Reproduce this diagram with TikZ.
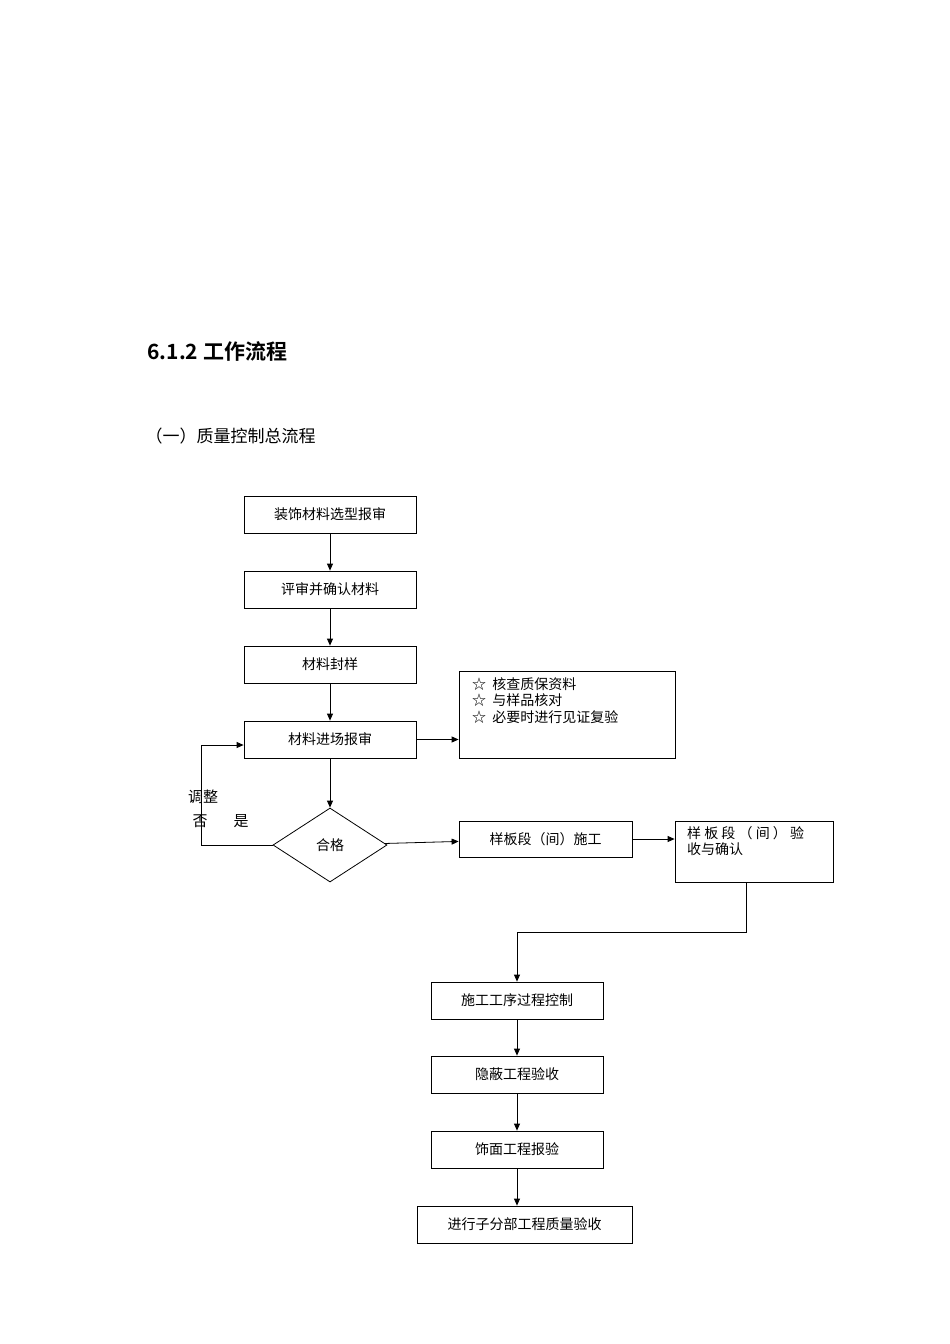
\documentclass[tikz,border=0pt]{standalone}
\usepackage{fontspec}
\setmainfont{Noto Sans CJK SC}
\newfontfamily\cjkb{Noto Sans CJK SC}[BoldFont={* Bold}]
\usetikzlibrary{shapes.geometric,arrows.meta}
\begin{document}
\begin{tikzpicture}[x=1pt,y=-1pt,
  bx/.style={draw,line width=0.8pt,font=\fontsize{14}{16}\selectfont},
  ar/.style={-{Triangle[length=7pt,width=6pt]},line width=0.8pt},
  ln/.style={line width=0.8pt},
  lb/.style={font=\fontsize{15}{17}\selectfont}]
\useasboundingbox (0,0) rectangle (950,1344);
\node[anchor=west,font=\cjkb\bfseries\fontsize{21}{24}\selectfont] (h1) at (144,351) {6.1.2 工作流程};
\node[anchor=west,font=\fontsize{17}{20}\selectfont] (h2) at (142,436) {（一）质量控制总流程};
\newcommand{\bbox}[6]{\node[bx,minimum width=#4-#2,minimum height=#5-#3,inner sep=0pt] (#1) at ({(#2+#4)/2},{(#3+#5)/2}) {#6};}
\bbox{a}{244}{496}{416}{533}{装饰材料选型报审}
\bbox{b}{244}{571}{416}{608}{评审并确认材料}
\bbox{c}{244}{646}{416}{683}{材料封样}
\bbox{d}{244}{721}{416}{758}{材料进场报审}
\node[draw,line width=0.8pt,minimum width=216,minimum height=87,inner sep=0pt] (r) at (567,714.5) {};
\node[anchor=north west,align=left,font=\fontsize{14}{16.5}\selectfont,inner sep=0pt] (rt) at (472,677) {☆\ \ 核查质保资料\\☆\ \ 与样品核对\\☆\ \ 必要时进行见证复验};
\node[draw,diamond,line width=0.8pt,minimum width=114,minimum height=74,inner sep=0pt,aspect=1.54,font=\fontsize{14}{16}\selectfont] (q) at (330,845) {合格};
\bbox{s}{459}{821}{632}{857}{样板段（间）施工}
\node[draw,line width=0.8pt,minimum width=158,minimum height=61,inner sep=0pt] (t) at (754,851.5) {};
\node[anchor=north west,align=left,font=\fontsize{14}{16}\selectfont,inner sep=0pt] (tt) at (687,826) {样 板 段 （ 间 ） 验\\收与确认};
\bbox{e}{431}{982}{603}{1019}{施工工序过程控制}
\bbox{f}{431}{1056}{603}{1093}{隐蔽工程验收}
\bbox{g}{431}{1131}{603}{1168}{饰面工程报验}
\bbox{k}{417}{1206}{632}{1243}{进行子分部工程质量验收}
\draw[ar] (a) -- (b);
\draw[ar] (b) -- (c);
\draw[ar] (c) -- (d);
\draw[ar] (d.east) -- (r.west |- d.east);
\draw[ar] (d) -- (q);
\draw[ar] (q) -- (s);
\draw[ar] (s) -- (t.west |- s.east);
\coordinate (j1) at (746,932);
\coordinate (j2) at (517,932);
\draw[ln] (t.south -| j1) -- (j1) -- (j2);
\draw[ar] (j2) -- (e.north);
\draw[ar] (e) -- (f);
\draw[ar] (f) -- (g);
\draw[ar] (g) -- (g.south |- k.north);
\coordinate (w1) at (201,845);
\coordinate (w2) at (201,745);
\draw[ar] (q.west) -- (w1) -- (w2) -- (d.west |- w2);
\node[lb] (l1) at (203,797) {调整};
\node[lb] (l2) at (200,821) {否};
\node[lb] (l3) at (241,821) {是};
\end{tikzpicture}
\end{document}
